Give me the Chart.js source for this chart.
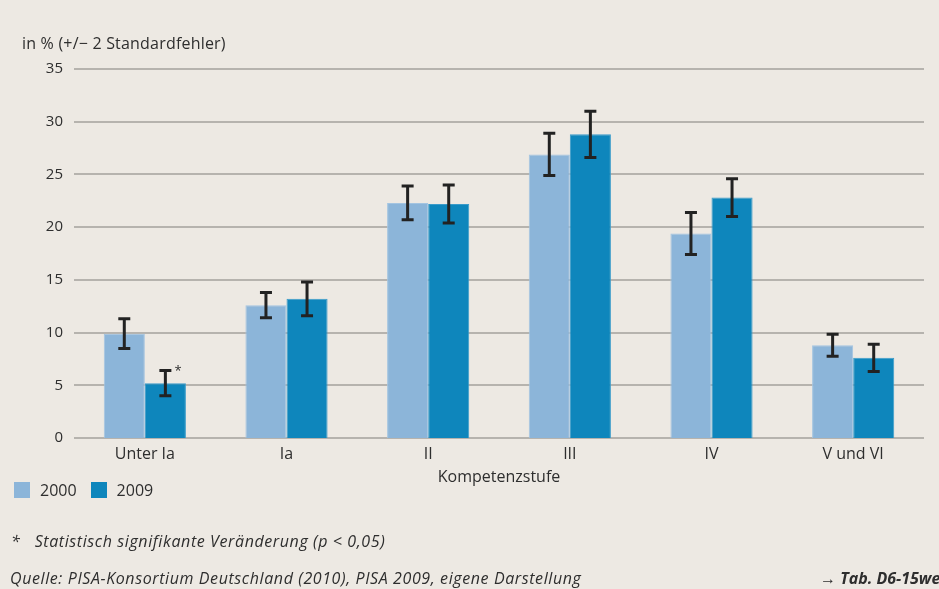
<!DOCTYPE html>
<html>
<head>
<meta charset="utf-8">
<script src="https://cdn.jsdelivr.net/npm/chart.js@4.4.1/dist/chart.umd.min.js"></script>
<style>
  html, body { margin: 0; padding: 0; background: #ede9e3; }
  #wrap { position: relative; width: 939px; height: 589px; overflow: hidden; font-family: 'Open Sans', sans-serif; color: #2e2e2e; }
  #chart { position: absolute; left: 0; top: 0; }
  .txt { position: absolute; white-space: nowrap; font-size: 16px; line-height: 20px; }
  .note { font-style: italic; letter-spacing: 0.6px; }
  #legend { position: absolute; left: 14px; top: 480px; display: flex; font-size: 16px; line-height: 20px; }
  #legend .item { display: flex; align-items: center; margin-right: 14px; }
  #legend .box { width: 16px; height: 16px; margin-right: 10px; }
</style>
</head>
<body>
<div id="wrap">
  <canvas id="chart" width="939" height="589"></canvas>
  <div class="txt" style="left:22px; top:33px; letter-spacing:0.2px;">in % (+/− 2 Standardfehler)</div>
  <div id="legend"></div>
  <div class="txt note" style="left:11px; top:531px;">*&nbsp;&nbsp; Statistisch signifikante Veränderung (p &lt; 0,05)</div>
  <div class="txt note" style="left:10px; top:568px;">Quelle: PISA-Konsortium Deutschland (2010), PISA 2009, eigene Darstellung</div>
  <div class="txt note" style="left:820px; top:568px; font-weight:bold; letter-spacing:0;">→ Tab. D6-15web</div>
</div>
<script>
// Kompetenzstufen
const categories = ['Unter Ia', 'Ia', 'II', 'III', 'IV', 'V und VI'];
const seriesNames = ['2000', '2009'];
const values2000 = [9.9, 12.6, 22.3, 26.9, 19.4, 8.8];
const values2009 = [5.2, 13.2, 22.2, 28.8, 22.8, 7.6];
// +/- 2 Standardfehler
const err2000 = [1.4, 1.2, 1.6, 2.0, 2.0, 1.05];
const err2009 = [1.2, 1.6, 1.8, 2.2, 1.8, 1.3];
// signifikante Veränderung
const sig2009 = [true, false, false, false, false, false];
const yTicks = [0, 5, 10, 15, 20, 25, 30, 35];

const colors = ['#8cb5d9', '#0e86bc'];
const fontFamily = "'Open Sans', sans-serif";

// grid lines drawn across the plot, then error bars on top
const gridPlugin = {
    id: 'grid',
    beforeDatasetsDraw(chart) {
        const ctx = chart.ctx;
        const y = chart.scales.y;
        const area = chart.chartArea;
        ctx.save();
        ctx.strokeStyle = '#b6b3ae';
        ctx.lineWidth = 2;
        yTicks.forEach(function (t) {
            const py = Math.round(y.getPixelForValue(t));
            ctx.beginPath();
            ctx.moveTo(area.left, py);
            ctx.lineTo(area.right, py);
            ctx.stroke();
        });
        ctx.restore();
    }
};

const errorBarPlugin = {
    id: 'errorBars',
    afterDatasetsDraw(chart) {
        const ctx = chart.ctx;
        const y = chart.scales.y;
        const errs = [err2000, err2009];
        ctx.save();
        ctx.strokeStyle = '#222222';
        ctx.lineWidth = 3;
        chart.data.datasets.forEach(function (ds, i) {
            const meta = chart.getDatasetMeta(i);
            meta.data.forEach(function (bar, j) {
                const v = ds.data[j];
                const e = errs[i][j];
                const top = y.getPixelForValue(v + e);
                const bot = y.getPixelForValue(v - e);
                const x = bar.x;
                ctx.beginPath();
                ctx.moveTo(x, top); ctx.lineTo(x, bot);
                ctx.moveTo(x - 6, top); ctx.lineTo(x + 6, top);
                ctx.moveTo(x - 6, bot); ctx.lineTo(x + 6, bot);
                ctx.stroke();
                if (i === 1 && sig2009[j]) {
                    ctx.fillStyle = '#2e2e2e';
                    ctx.font = '13px ' + fontFamily;
                    ctx.textAlign = 'left';
                    ctx.textBaseline = 'middle';
                    ctx.fillText('*', x + 9, top + 1);
                }
            });
        });
        ctx.restore();
    }
};

const ctx = document.getElementById('chart');
const chart = new Chart(ctx, {
    type: 'bar',
    data: {
        labels: categories,
        datasets: [{
            label: seriesNames[0],
            data: values2000,
            backgroundColor: colors[0],
            borderColor: '#a3c4e1',
            borderWidth: { top: 1, left: 1, right: 1, bottom: 0 }
        }, {
            label: seriesNames[1],
            data: values2009,
            backgroundColor: colors[1],
            borderColor: '#3a9bca',
            borderWidth: { top: 1, left: 1, right: 1, bottom: 0 }
        }]
    },
    options: {
        responsive: false,
        animation: false,
        layout: { padding: { top: 69, left: 0, right: 15, bottom: 102 } },
        categoryPercentage: 0.58,
        barPercentage: 1.0,
        plugins: {
            legend: { display: false },
            title: { display: false },
            tooltip: { enabled: false }
        },
        scales: {
            x: {
                grid: { display: false, drawTicks: false },
                border: { display: false },
                ticks: { color: '#2e2e2e', font: { family: fontFamily, size: 16 }, padding: 7 },
                title: {
                    display: true, text: 'Kompetenzstufe', color: '#2e2e2e',
                    font: { family: fontFamily, size: 16 }, padding: { top: 2, bottom: 0 }
                },
                afterFit: function (s) { s.height = 49; }
            },
            y: {
                min: 0, max: 35,
                grid: { display: false, drawTicks: false },
                border: { display: false },
                ticks: {
                    stepSize: 5, color: '#2e2e2e', padding: 11,
                    font: { family: fontFamily, size: 15 }
                },
                afterFit: function (s) { s.width = 74; }
            }
        }
    },
    plugins: [gridPlugin, errorBarPlugin]
});

// legend built from the datasets
const legendEl = document.getElementById('legend');
chart.data.datasets.forEach(function (ds) {
    const item = document.createElement('div');
    item.className = 'item';
    const box = document.createElement('span');
    box.className = 'box';
    box.style.background = ds.backgroundColor;
    const label = document.createElement('span');
    label.textContent = ds.label;
    item.appendChild(box);
    item.appendChild(label);
    legendEl.appendChild(item);
});
</script>
</body>
</html>
